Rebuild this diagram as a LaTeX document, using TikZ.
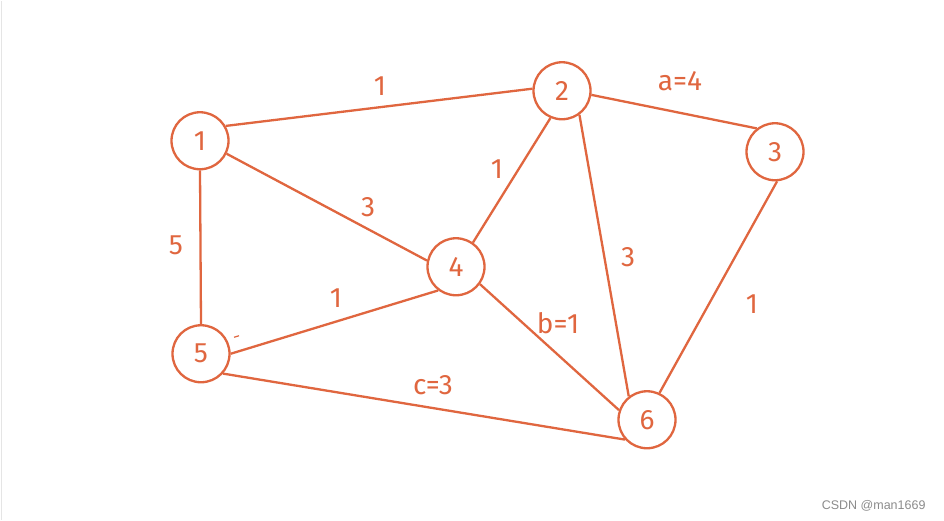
\documentclass[tikz,border=0pt]{standalone}
\usepackage{fontspec}
\setmainfont{Fira Sans}
\newfontfamily\wmfont{Liberation Sans}
\definecolor{pen}{HTML}{E0663F}
\begin{document}
\begin{tikzpicture}[x=1pt,y=-1pt,
  vtx/.style={circle,draw=pen,line width=2.3pt,minimum size=57pt,inner sep=0pt,text=pen,font=\fontsize{28}{28}\selectfont},
  edge/.style={draw=pen,line width=2.3pt},
  lbl/.style={text=pen,font=\fontsize{28}{28}\selectfont}]
\fill[white] (0,0) rectangle (944,519);
\draw[black!10,line width=1.5pt] (1.5,0) -- (1.5,519);
\useasboundingbox (0,0) rectangle (944,519);
\node[vtx] (v1) at (200,140) {1};
\node[vtx] (v2) at (562,90) {2};
\node[vtx] (v3) at (775,151) {3};
\node[vtx] (v4) at (456,266) {4};
\node[vtx] (v5) at (201,353) {5};
\node[vtx] (v6) at (647,419) {6};
\draw[edge] (v1.30) -- (v2.176);
\draw[edge] (v1.-26) -- (v4.168);
\draw[edge] (v1.-90) -- (v5.90);
\draw[edge] (v2.-8) -- (v3.128);
\draw[edge] (v2.-113) -- (v4.55);
\draw[edge] (v2.-54) -- (v6.128);
\draw[edge] (v3.-86) -- (v6.65);
\draw[edge] (v4.233) -- (v5.0);
\draw[edge] (v4.-36) -- (v6.161);
\draw[edge] (v5.-42) -- (v6.222);
\node[lbl] (l12) at (380,85) {1};
\node[lbl] (l23) at (680,80) {a=4};
\node[lbl] (l24) at (497,168) {1};
\node[lbl] (l14) at (368,206) {3};
\node[lbl] (l26) at (628,256) {3};
\node[lbl] (l15) at (176,245) {5};
\node[lbl] (l45) at (336,297) {1};
\node[lbl] (l46) at (558,322) {b=1};
\node[lbl] (l36) at (752,303) {1};
\node[lbl] (l56) at (433,384) {c=3};
\coordinate (m1) at (234,336.5);
\coordinate (m2) at (239,335);
\draw[pen,line width=1.2pt] (m1) -- (m2);
\node[anchor=east,text=black!45,font=\wmfont\fontsize{12.5}{13}\selectfont] (wm) at (929,505) {CSDN @man1669};
\end{tikzpicture}
\end{document}
